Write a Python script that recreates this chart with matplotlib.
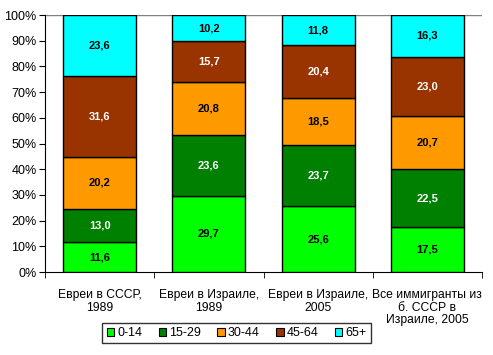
import numpy as np
import matplotlib
matplotlib.use('Agg')
import matplotlib.pyplot as plt
from matplotlib.patches import Patch

plt.rcParams['font.family'] = ['Liberation Sans', 'DejaVu Sans']

categories = ['Евреи в СССР,\n1989', 'Евреи в Израиле,\n1989',
              'Евреи в Израиле,\n2005', 'Все иммигранты из\nб. СССР в\nИзраиле, 2005']
groups = ['0-14', '15-29', '30-44', '45-64', '65+']
age_0_14 = [11.6, 29.7, 25.6, 17.5]
age_15_29 = [13.0, 23.6, 23.7, 22.5]
age_30_44 = [20.2, 20.8, 18.5, 20.7]
age_45_64 = [31.6, 15.7, 20.4, 23.0]
age_65 = [23.6, 10.2, 11.8, 16.3]
series = [age_0_14, age_15_29, age_30_44, age_45_64, age_65]
colors = ['#00FF00', '#008000', '#FF9900', '#993300', '#00FFFF']
text_colors = ['black', 'white', 'black', 'white', 'black']

fig = plt.figure(figsize=(4.93, 3.55), dpi=100)
ax = fig.add_axes([0.0913, 0.2338, 0.8864, 0.7239])

x = np.arange(len(categories))
bottom = np.zeros(len(categories))
for vals, col, tc in zip(series, colors, text_colors):
    vals = np.array(vals)
    share = vals / 100.0
    ax.bar(x, share, 0.67, bottom=bottom, color=col, edgecolor='black', linewidth=1, zorder=3)
    for xi, b, v in zip(x, bottom, vals):
        ax.text(xi, b + v / 200.0, f'{v:.1f}'.replace('.', ','), ha='center', va='center',
                fontsize=8, fontweight='bold', color=tc, zorder=4)
    bottom += share

ax.set_xlim(-0.5, len(categories) - 0.5)
ax.set_ylim(0, 1)
ax.set_yticks(np.arange(0, 1.01, 0.1))
ax.set_yticklabels([f'{int(round(v * 100))}%' for v in np.arange(0, 1.01, 0.1)], fontsize=9)
ax.set_xticks(x)
ax.set_xticklabels(categories, fontsize=8.7, linespacing=1.1)
ax.tick_params(axis='x', length=0, pad=12)
ax.set_xticks(np.arange(-0.5, len(categories)), minor=True)
ax.tick_params(axis='x', which='minor', length=4, direction='out')
ax.tick_params(axis='y', length=4, direction='out', pad=2)
ax.axhline(1.0, color='#808080', linewidth=1, zorder=2)

for s in ['top', 'right']:
    ax.spines[s].set_visible(False)

handles = [Patch(facecolor=c, edgecolor='black', linewidth=0.8) for c in colors]
leg = fig.legend(handles, groups, loc='center', bbox_to_anchor=(0.48, 0.062), ncol=5,
                 fontsize=9, frameon=True, fancybox=False, edgecolor='black',
                 handlelength=0.6, handleheight=0.6, handletextpad=0.25, columnspacing=1.3,
                 borderpad=0.35)
leg.get_frame().set_linewidth(1)

fig.savefig('out.png', dpi=100)
